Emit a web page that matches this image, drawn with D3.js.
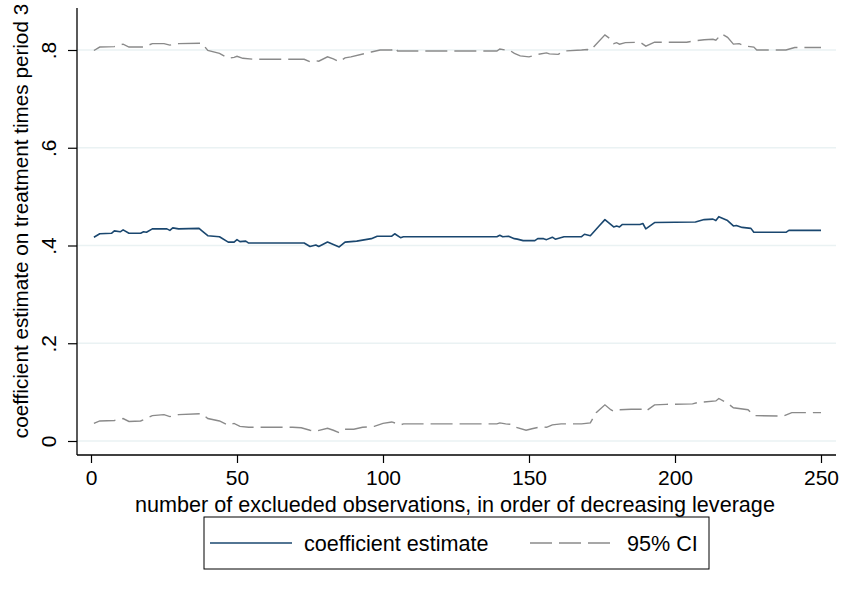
<!DOCTYPE html>
<html>
<head>
<meta charset="utf-8">
<script src="https://cdn.jsdelivr.net/npm/d3@7"></script>
<style>
  body { margin: 0; background: #fff; }
  svg { font-family: "Liberation Sans", Arial, sans-serif; }
</style>
</head>
<body>
<svg id="chart" width="842" height="597"></svg>
<script>
// values: [observations excluded, value]
const coefPoints = [
  [1,.417],[3,.424],[7,.425],[8,.430],[10,.428],[11,.432],[13,.425],[17,.425],[18,.428],[19,.427],
  [21,.434],[26,.434],[27,.431],[28,.436],[30,.434],[37,.435],[38,.430],[40,.420],[44,.418],[47,.407],
  [49,.407],[50,.412],[51,.408],[53,.409],[54,.405],[73,.405],[75,.398],[77,.401],[78,.398],[81,.407],
  [83,.402],[85,.397],[87,.407],[91,.409],[93,.411],[96,.414],[98,.419],[103,.419],[104,.424],[106,.416],
  [107,.418],[139,.418],[140,.421],[141,.418],[143,.419],[145,.414],[146,.413],[148,.410],[152,.410],[153,.414],
  [155,.414],[156,.412],[158,.417],[159,.413],[162,.418],[168,.418],[169,.423],[171,.420],[174,.440],[176,.453],
  [179,.438],[180,.440],[181,.438],[182,.443],[188,.443],[189,.445],[190,.434],[193,.447],[207,.448],[210,.453],
  [213,.454],[214,.451],[215,.459],[218,.451],[220,.440],[221,.441],[223,.437],[226,.435],[227,.427],[238,.427],
  [239,.431],[250,.431]
];
const upperPoints = [
  [1,.799],[3,.806],[8,.807],[11,.812],[13,.806],[18,.806],[21,.813],[25,.813],[27,.810],[30,.813],
  [38,.814],[40,.799],[44,.793],[47,.783],[49,.785],[50,.787],[52,.783],[56,.781],[73,.781],[75,.776],
  [77,.778],[78,.777],[81,.786],[83,.782],[85,.776],[87,.784],[89,.786],[96,.796],[99,.800],[103,.800],
  [104,.806],[105,.798],[139,.798],[140,.802],[142,.800],[143,.801],[145,.793],[147,.788],[150,.786],[153,.791],
  [156,.794],[157,.792],[160,.791],[162,.798],[168,.800],[170,.801],[171,.799],[176,.831],[178,.822],[179,.813],
  [180,.815],[181,.812],[183,.815],[188,.816],[190,.808],[193,.816],[204,.816],[206,.818],[210,.821],[213,.822],
  [214,.820],[216,.833],[218,.826],[220,.812],[222,.813],[224,.808],[227,.806],[228,.800],[238,.800],[241,.805],
  [250,.805]
];
const lowerPoints = [
  [1,.036],[3,.041],[8,.042],[11,.046],[13,.040],[17,.041],[21,.052],[25,.054],[27,.050],[30,.054],
  [38,.056],[40,.046],[44,.041],[47,.032],[49,.036],[51,.030],[54,.028],[69,.028],[72,.027],[75,.022],
  [77,.020],[81,.026],[83,.022],[85,.017],[87,.024],[90,.024],[93,.028],[97,.030],[100,.036],[103,.039],
  [106,.033],[107,.035],[139,.035],[140,.037],[142,.035],[144,.034],[145,.029],[149,.022],[151,.025],[154,.029],
  [156,.028],[158,.033],[161,.035],[168,.035],[171,.037],[173,.058],[176,.074],[178,.064],[179,.061],[181,.064],
  [185,.065],[189,.065],[190,.061],[193,.074],[197,.075],[206,.076],[208,.079],[214,.082],[215,.087],[218,.077],
  [220,.068],[225,.064],[227,.052],[237,.051],[240,.058],[250,.058]
];
const xTicks = [0, 50, 100, 150, 200, 250];
const yTicks = [0, .2, .4, .6, .8];
const yTickLabels = ['0', '.2', '.4', '.6', '.8'];
const legendLabels = ['coefficient estimate', '95% CI'];

const navy = '#1a476f';
const gray = '#8a8a8a';
const gridColor = '#eaf2f3';
const fontFam = '"Liberation Sans", Arial, sans-serif';

let svg = d3.select('#chart');
let plotLeft = 77, plotBottom = 455, plotRight = 836, plotTop = 8;

let xscale = d3.scaleLinear().domain([0, 250]).range([91, 821]);
let yscale = d3.scaleLinear().domain([0, .8]).range([441, 50]);

// gridlines
svg.append('g').selectAll('line').data(yTicks).join('line')
  .attr('x1', plotLeft).attr('x2', plotRight)
  .attr('y1', d => yscale(d)).attr('y2', d => yscale(d))
  .attr('stroke', gridColor).attr('stroke-width', 1.5);

let line = d3.line().x(d => xscale(d[0])).y(d => yscale(d[1]));

svg.append('path').datum(upperPoints)
  .attr('fill', 'none').attr('stroke', gray).attr('stroke-width', 1.4)
  .attr('stroke-dasharray', '22,7').attr('d', line);
svg.append('path').datum(lowerPoints)
  .attr('fill', 'none').attr('stroke', gray).attr('stroke-width', 1.4)
  .attr('stroke-dasharray', '22,7').attr('d', line);
svg.append('path').datum(coefPoints)
  .attr('fill', 'none').attr('stroke', navy).attr('stroke-width', 1.6)
  .attr('stroke-linejoin', 'round').attr('d', line);

// axes
let yaxis = d3.axisLeft(yscale).tickValues(yTicks).tickSize(9).tickSizeOuter(0)
  .tickFormat((d, i) => yTickLabels[i]);
let gy = svg.append('g').attr('transform', 'translate(' + plotLeft + ',0)').call(yaxis);
gy.select('.domain').remove();
gy.selectAll('.tick line').attr('stroke', '#000').attr('stroke-width', 1.2);
gy.selectAll('.tick text')
  .attr('x', 0).attr('dy', null)
  .attr('transform', 'translate(-21,0) rotate(-90)')
  .attr('text-anchor', 'middle')
  .attr('font-size', 21).attr('font-family', fontFam).attr('fill', '#000');
svg.append('line').attr('x1', plotLeft).attr('x2', plotLeft).attr('y1', plotTop).attr('y2', plotBottom)
  .attr('stroke', '#000').attr('stroke-width', 1.3);

let xaxis = d3.axisBottom(xscale).tickValues(xTicks).tickSize(8).tickSizeOuter(0);
let gx = svg.append('g').attr('transform', 'translate(0,' + plotBottom + ')').call(xaxis);
gx.select('.domain').remove();
gx.selectAll('.tick line').attr('stroke', '#000').attr('stroke-width', 1.2);
gx.selectAll('.tick text')
  .attr('y', 30).attr('dy', null)
  .attr('font-size', 21).attr('font-family', fontFam).attr('fill', '#000');
svg.append('line').attr('x1', plotLeft).attr('x2', plotRight).attr('y1', plotBottom).attr('y2', plotBottom)
  .attr('stroke', '#000').attr('stroke-width', 1.3);

// axis titles
svg.append('text')
  .attr('x', 455).attr('y', 512).attr('text-anchor', 'middle')
  .attr('font-size', 21.6)
  .text('number of exclueded observations, in order of decreasing leverage');
svg.append('text')
  .attr('transform', 'translate(28,' + 221 + ') rotate(-90)')
  .attr('text-anchor', 'middle')
  .attr('font-size', 20.7)
  .text('coefficient estimate on treatment times period 3');

// legend
let lg = svg.append('g');
lg.append('rect').attr('x', 204).attr('y', 517).attr('width', 505).attr('height', 52)
  .attr('fill', '#fff').attr('stroke', '#000').attr('stroke-width', 1);
lg.append('line').attr('x1', 210).attr('x2', 292).attr('y1', 543).attr('y2', 543)
  .attr('stroke', navy).attr('stroke-width', 1.6);
lg.append('text').attr('x', 304).attr('y', 551).attr('font-size', 21.6).text(legendLabels[0]);
lg.append('line').attr('x1', 530).attr('x2', 610).attr('y1', 543).attr('y2', 543)
  .attr('stroke', gray).attr('stroke-width', 1.4).attr('stroke-dasharray', '22,7');
lg.append('text').attr('x', 627).attr('y', 551).attr('font-size', 21.6).text(legendLabels[1]);
</script>
</body>
</html>
